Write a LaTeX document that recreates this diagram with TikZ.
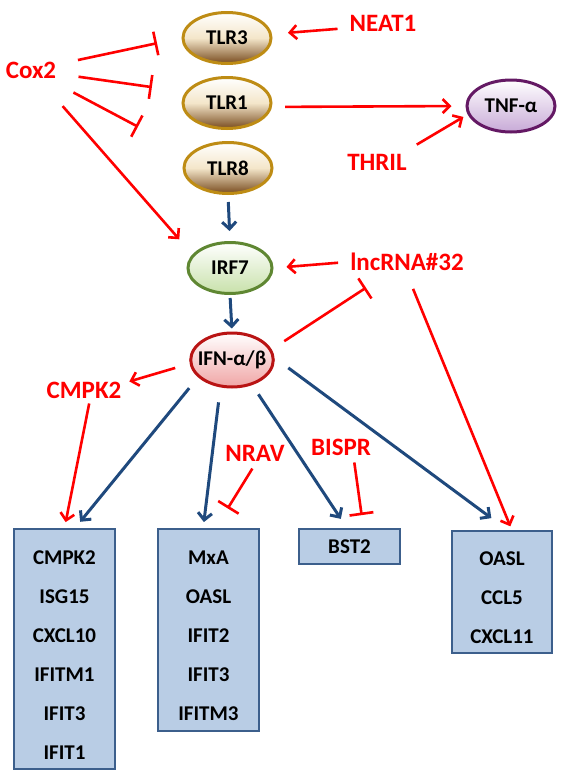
\documentclass[tikz,border=0pt]{standalone}
\usepackage{fontspec}
\setmainfont{Carlito}
\usepackage{tikz}
\usetikzlibrary{arrows.meta,shapes.geometric}
\definecolor{lncred}{RGB}{255,0,0}
\definecolor{sigblue}{RGB}{31,73,125}
\definecolor{tlrgold}{RGB}{190,140,20}
\definecolor{tlrbrown}{RGB}{120,75,30}
\definecolor{tlrcream}{RGB}{244,230,202}
\definecolor{irfgreen}{RGB}{95,135,50}
\definecolor{irflight}{RGB}{200,225,170}
\definecolor{ifnred}{RGB}{185,20,20}
\definecolor{ifnpink}{RGB}{240,165,165}
\definecolor{tnfpurple}{RGB}{100,25,100}
\definecolor{tnflight}{RGB}{200,170,215}
\definecolor{genefill}{RGB}{185,205,229}
\definecolor{geneline}{RGB}{60,95,140}
\newcommand{\rnafnt}{\fontsize{25}{30}\selectfont\bfseries}
\newcommand{\genefnt}{\fontsize{21}{39}\selectfont\bfseries}
\newcommand{\toprow}{\rule{0pt}{26pt}}
\tikzset{>/.tip={Straight Barb[length=7pt,width=14pt]},
  rna/.style={text=lncred, font=\rnafnt, inner sep=3pt},
  mol/.style={ellipse, font=\genefnt, line width=3pt, inner sep=0pt},
  tlr/.style={mol, draw=tlrgold, top color=white, bottom color=tlrbrown, middle color=tlrcream, minimum width=88pt, minimum height=51pt},
  genes/.style={draw=geneline, fill=genefill, line width=2pt, font=\genefnt, align=center, minimum width=101pt},
  act/.style={->, draw=lncred, line width=2.6pt},
  inh/.style={-{Bar[width=24pt]}, draw=lncred, line width=2.6pt},
  flow/.style={->, draw=sigblue, line width=3pt}}

\begin{document}
\begin{tikzpicture}[x=1pt, y=-1pt]
\useasboundingbox (0,0) rectangle (561,777);
\node[tlr] (tlrA) at (227,38) {TLR3};
\node[tlr] (tlrB) at (227,103) {TLR1};
\node[tlr] (tlrC) at (228,168) {TLR8};
\node[mol, draw=tnfpurple, top color=white, bottom color=tnflight, minimum width=88pt, minimum height=52pt] (tnf) at (511,106) {TNF-α};
\node[mol, draw=irfgreen, top color=white, bottom color=irflight, minimum width=84pt, minimum height=51pt] (irf) at (230,268) {IRF7};
\node[mol, draw=ifnred, top color=white, bottom color=ifnpink, minimum width=80pt, minimum height=54pt, inner xsep=-5pt] (ifn) at (232,360) {IFN-α/β};

\node[rna] (cox) at (31,70) {Cox2};
\node[rna] (neat) at (383,23) {NEAT1};
\node[rna] (thril) at (377,162) {THRIL};
\node[rna] (lnc) at (407,262) {lncRNA\#32};
\node[rna] (cmpk) at (84,390) {CMPK2};
\node[rna] (nrav) at (255,453) {NRAV};
\node[rna] (bispr) at (341,447) {BISPR};

\node[genes, minimum height=240pt] (boxA) at (64.5,649) {\toprow CMPK2\\ISG15\\CXCL10\\IFITM1\\IFIT3\\IFIT1};
\node[genes, minimum height=202pt] (boxB) at (208.5,630) {\toprow MxA\\OASL\\IFIT2\\IFIT3\\IFITM3};
\node[genes, minimum height=35pt] (boxC) at (349.5,546.5) {BST2};
\node[genes, minimum height=122pt, minimum width=100pt] (boxD) at (502,592) {\toprow OASL\\CCL5\\CXCL11};

\draw[inh, shorten <=48pt, shorten >=25pt] (cox.center) to (tlrA.west);
\draw[inh, shorten <=48pt, shorten >=34pt] (cox.center) to (tlrB.165);
\draw[inh, shorten <=48pt, shorten >=58pt] (cox.center) to (tlrC.160);
\draw[act, shorten <=48pt, shorten >=20pt] (cox.center) to (irf.160);
\draw[act, shorten <=9pt, shorten >=16pt] (neat.188) to (tlrA.5);
\draw[act, shorten <=13pt, shorten >=14pt] (tlrB.-5) to (tnf.west);
\draw[act, shorten <=12pt, shorten >=5pt] (thril.21) to (tnf.191);
\draw[flow, shorten <=7pt, shorten >=10pt] (tlrC.south) to (irf.north);
\draw[flow, shorten <=3pt, shorten >=3pt] (irf.south) to (ifn.north);
\draw[act, shorten <=9pt, shorten >=13pt] (lnc.west) to (irf.east);
\draw[inh, shorten <=15pt, shorten >=25pt] (ifn.15) to (lnc.211);
\draw[act, shorten <=15pt, shorten >=5pt] (ifn.185) to (cmpk.10);
\draw[act, shorten <=2pt, shorten >=6pt] (cmpk.-64) to (boxA.north);
\draw[flow, shorten <=14pt, shorten >=8pt] (ifn.207) to (boxA.85);
\draw[flow, shorten <=15pt, shorten >=6pt] (ifn.247) to (boxB.93);
\draw[flow, shorten <=11pt, shorten >=11pt] (ifn.-51) to (boxC.98);
\draw[flow, shorten <=17pt, shorten >=20pt] (ifn.3) to (boxD.85);
\draw[act, shorten <=16pt, shorten >=4pt] (lnc.south) to (boxD.81);
\draw[inh, shorten <=5pt, shorten >=23pt] (nrav.south) to (boxB.86);
\draw[inh, shorten <=4pt, shorten >=13pt] (bispr.-42) to (boxC.53);
\end{tikzpicture}
\end{document}
